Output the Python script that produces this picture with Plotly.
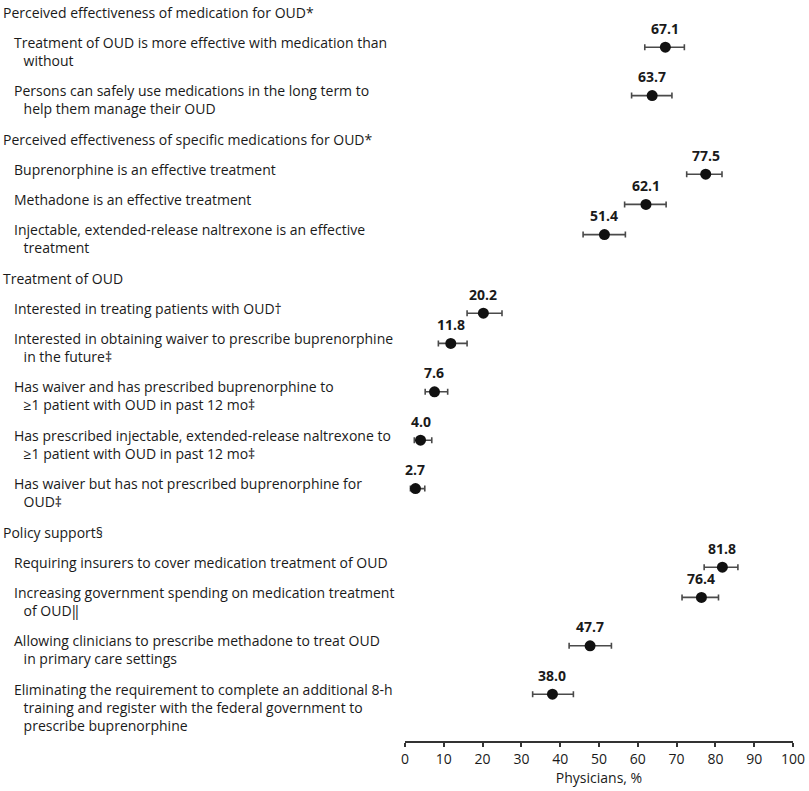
import plotly.graph_objects as go

# Data
section_titles = [
    "Perceived effectiveness of medication for OUD*",
    "Perceived effectiveness of specific medications for OUD*",
    "Treatment of OUD",
    "Policy support§",
]
section_sizes = [2, 3, 5, 4]

item_labels = [
    "Treatment of OUD is more effective with medication than\nwithout",
    "Persons can safely use medications in the long term to\nhelp them manage their OUD",
    "Buprenorphine is an effective treatment",
    "Methadone is an effective treatment",
    "Injectable, extended-release naltrexone is an effective\ntreatment",
    "Interested in treating patients with OUD†",
    "Interested in obtaining waiver to prescribe buprenorphine\nin the future‡",
    "Has waiver and has prescribed buprenorphine to\n≥1 patient with OUD in past 12 mo‡",
    "Has prescribed injectable, extended-release naltrexone to\n≥1 patient with OUD in past 12 mo‡",
    "Has waiver but has not prescribed buprenorphine for\nOUD‡",
    "Requiring insurers to cover medication treatment of OUD",
    "Increasing government spending on medication treatment\nof OUD‖",
    "Allowing clinicians to prescribe methadone to treat OUD\nin primary care settings",
    "Eliminating the requirement to complete an additional 8-h\ntraining and register with the federal government to\nprescribe buprenorphine",
]
estimate = [67.1, 63.7, 77.5, 62.1, 51.4, 20.2, 11.8, 7.6, 4.0, 2.7, 81.8, 76.4, 47.7, 38.0]
ci_low = [61.8, 58.4, 72.6, 56.6, 45.9, 16.0, 8.6, 5.2, 2.4, 1.4, 77.1, 71.4, 42.3, 32.9]
ci_high = [72.0, 68.8, 81.7, 67.3, 56.8, 25.0, 16.0, 11.0, 6.9, 5.1, 85.8, 80.8, 53.2, 43.4]

x_ticks = list(range(0, 101, 10))

# ---- row layout (vertical units = pixels of the page)
LINE = 18.2          # plotly line height for a 14px font
GAP = 12
FONT = "Open Sans, Noto Sans, sans-serif"
TEXT = "#1a1a1a"
INDENT = "\u00a0\u00a0\u2009"   # hanging indent for wrapped lines

annotations = []
pt_y = []
y = 12
k = 0
for title, n in zip(section_titles, section_sizes):
    annotations.append(dict(x=0, xref="paper", xshift=-404, y=y, yref="y",
                            text=title, showarrow=False, xanchor="left",
                            yanchor="middle", font=dict(size=14, color=TEXT)))
    y += LINE + GAP
    for _ in range(n):
        lines = item_labels[k].split("\n")
        text = "<br>".join([lines[0]] + [INDENT + ln for ln in lines[1:]])
        annotations.append(dict(x=0, xref="paper", xshift=-393,
                                y=y + (len(lines) - 1) * LINE / 2, yref="y",
                                text=text, showarrow=False, align="left",
                                xanchor="left", yanchor="middle",
                                font=dict(size=14, color=TEXT)))
        pt_y.append(y + 5)
        y += len(lines) * LINE + GAP
        k += 1

# value labels above each point
for v, py in zip(estimate, pt_y):
    annotations.append(dict(x=v, y=py, xref="x", yref="y", text=f"<b>{v:.1f}</b>",
                            showarrow=False, yshift=19, yanchor="middle",
                            font=dict(size=14, color=TEXT)))

fig = go.Figure()
fig.add_trace(go.Scatter(
    x=estimate, y=pt_y, mode="markers",
    marker=dict(color="#111111", size=11),
    error_x=dict(type="data", symmetric=False,
                 array=[h - e for h, e in zip(ci_high, estimate)],
                 arrayminus=[e - l for e, l in zip(estimate, ci_low)],
                 color="#4a4a4a", thickness=1.6, width=3),
    cliponaxis=False, hoverinfo="x",
))

fig.update_layout(
    width=809, height=791,
    margin=dict(l=405, r=16, t=0, b=50),
    paper_bgcolor="white", plot_bgcolor="white",
    showlegend=False,
    font=dict(family=FONT, size=14, color=TEXT),
    annotations=annotations,
    xaxis=dict(range=[0, 100], tickvals=x_ticks, showgrid=False, zeroline=False,
               showline=True, linecolor="#333333", linewidth=1.5,
               ticks="outside", ticklen=4, tickcolor="#333333", tickwidth=1.5,
               title=dict(text="Physicians, %", standoff=6,
                          font=dict(size=14, color=TEXT)),
               tickfont=dict(size=14, color=TEXT)),
    yaxis=dict(range=[741, 0], visible=False, showgrid=False, zeroline=False),
)

# drop the default 8px page margin so the figure fills the window
fig.write_html("out.html", config={"displayModeBar": False},
               post_script="document.body.style.margin = '0';")
